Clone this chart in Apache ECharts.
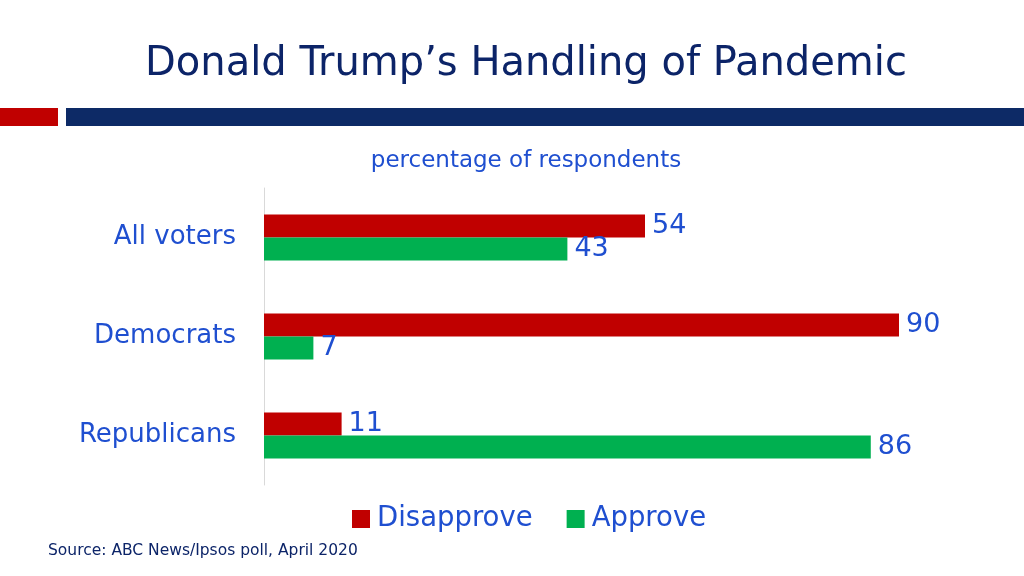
<!DOCTYPE html>
<html>
<head>
<meta charset="utf-8">
<script src="https://cdn.jsdelivr.net/npm/echarts@6/dist/echarts.min.js"></script>
<style>
html,body{margin:0;padding:0;background:#fff;}
#c{width:1024px;height:576px;}
</style>
</head>
<body>
<div id="c"></div>
<script>
const categories = ["All voters", "Democrats", "Republicans"];
const disapprove = [54, 90, 11];
const approve = [43, 7, 86];
const seriesNames = ["Disapprove", "Approve"];

const FONT = "DejaVu Sans";
const BLUE = "#1f4fd0";
const NAVY = "#0c2468";

const chart = echarts.init(document.getElementById('c'));
chart.setOption({
  backgroundColor: '#fff',
  animation: false,
  title: [
    {text: "Donald Trump’s Handling of Pandemic", left: 526, textAlign: 'center', top: 45, padding: 0,
     textStyle: {fontFamily: FONT, fontSize: 40, fontWeight: 'normal', color: NAVY}},
    {text: "percentage of respondents", left: 526, textAlign: 'center', top: 150, padding: 0,
     textStyle: {fontFamily: FONT, fontSize: 23, fontWeight: 'normal', color: BLUE}},
    {text: "Source: ABC News/Ipsos poll, April 2020", left: 48, top: 543, padding: 0,
     textStyle: {fontFamily: FONT, fontSize: 15.5, fontWeight: 'normal', color: NAVY}}
  ],
  graphic: [
    {type: 'rect', shape: {x: 0, y: 108, width: 58, height: 18}, style: {fill: '#c00000'}},
    {type: 'rect', shape: {x: 66, y: 108, width: 958, height: 18}, style: {fill: '#0d2a66'}}
  ],
  legend: {
    data: seriesNames, left: 347, top: 500, itemWidth: 18, itemHeight: 18, itemGap: 34,
    icon: 'rect',
    textStyle: {fontFamily: FONT, fontSize: 27.5, color: BLUE, padding: [0, 0, 0, 2]}
  },
  grid: {left: 264, right: 125, top: 188, bottom: 91},
  xAxis: {type: 'value', min: 0, max: 90, show: false},
  yAxis: {
    type: 'category', data: categories, inverse: true,
    axisLine: {show: true, lineStyle: {color: '#d9d9d9', width: 1}},
    axisTick: {show: false},
    axisLabel: {fontFamily: FONT, fontSize: 26, color: BLUE, margin: 28}
  },
  series: [
    {name: seriesNames[0], type: 'bar', data: disapprove, barWidth: 23, barGap: '0%',
     itemStyle: {color: '#c00000'},
     label: {show: true, position: 'right', distance: 7, fontFamily: FONT, fontSize: 27, color: BLUE}},
    {name: seriesNames[1], type: 'bar', data: approve, barWidth: 23, barGap: '0%',
     itemStyle: {color: '#00b050'},
     label: {show: true, position: 'right', distance: 7, fontFamily: FONT, fontSize: 27, color: BLUE}}
  ]
});
</script>
</body>
</html>
